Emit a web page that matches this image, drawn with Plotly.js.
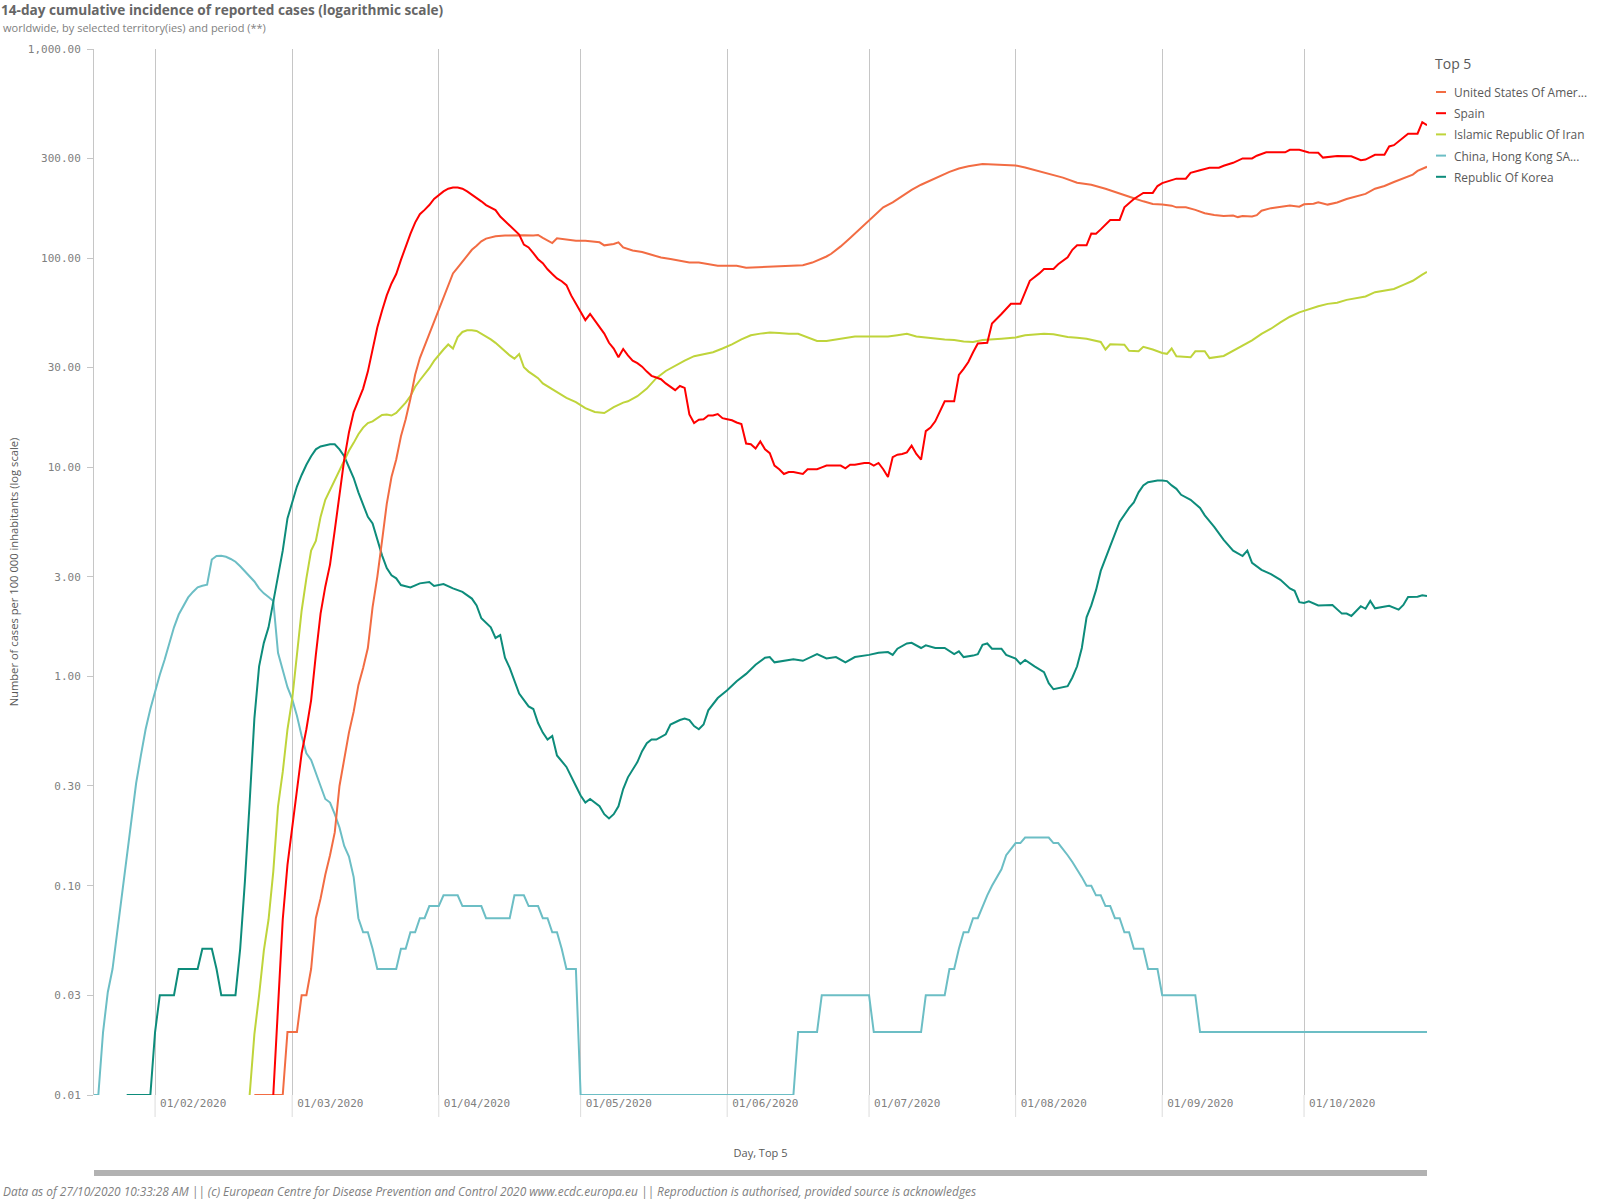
<!DOCTYPE html>
<html>
<head>
<meta charset="utf-8">
<script src="https://cdn.plot.ly/plotly-3.0.1.min.js"></script>
<style>
  html, body { margin: 0; padding: 0; background: #ffffff; }
  #chart { width: 1600px; height: 1200px; }
</style>
</head>
<body>
<div id="chart"></div>
<script>
// ---- Series names and legend labels ----
const seriesNames = ['United States Of America', 'Spain', 'Islamic Republic Of Iran', 'China, Hong Kong SAR', 'Republic Of Korea'];
const legendLabels = ['United States Of Amer...', 'Spain', 'Islamic Republic Of Iran', 'China, Hong Kong SA...', 'Republic Of Korea'];
const legendTitle = 'Top 5';

// ---- Axis ticks ----
const monthTicks = ['2020-02-01', '2020-03-01', '2020-04-01', '2020-05-01', '2020-06-01', '2020-07-01', '2020-08-01', '2020-09-01', '2020-10-01'];
const monthLabels = ['01/02/2020', '01/03/2020', '01/04/2020', '01/05/2020', '01/06/2020', '01/07/2020', '01/08/2020', '01/09/2020', '01/10/2020'];
const yTickValues = [1000, 300, 100, 30, 10, 3, 1, 0.3, 0.1, 0.03, 0.01];
const yTickLabels = ['1,000.00', '300.00', '100.00', '30.00', '10.00', '3.00', '1.00', '0.30', '0.10', '0.03', '0.01'];

// ---- United States Of America (days are MM-DD in 2020) ----
const usaDays = ['02-22','02-28','02-29','03-02','03-03','03-04','03-05','03-06','03-07','03-08','03-09','03-10','03-11','03-12','03-13','03-14','03-15','03-16','03-17','03-18','03-19','03-20','03-21','03-22','03-23','03-24','03-25','03-26','03-27','03-28','03-29','03-30','03-31','04-01','04-02','04-03','04-04','04-05','04-06','04-07','04-08','04-09','04-10','04-11','04-12','04-13','04-15','04-17','04-19','04-21','04-22','04-23','04-24','04-25','04-26','04-28','04-30','05-02','05-04','05-05','05-06','05-08','05-09','05-10','05-12','05-14','05-16','05-18','05-20','05-22','05-24','05-26','05-28','05-30','06-01','06-03','06-05','06-07','06-09','06-11','06-13','06-15','06-17','06-19','06-20','06-22','06-23','06-25','06-27','06-29','07-01','07-03','07-04','07-06','07-08','07-10','07-12','07-14','07-16','07-18','07-20','07-22','07-25','07-29','08-01','08-03','08-06','08-08','08-11','08-14','08-17','08-20','08-23','08-26','08-28','08-30','09-01','09-03','09-04','09-06','09-08','09-10','09-12','09-14','09-16','09-17','09-18','09-20','09-21','09-22','09-24','09-26','09-28','09-30','10-01','10-03','10-04','10-06','10-08','10-10','10-12','10-14','10-16','10-18','10-20','10-22','10-24','10-25','10-27'];
const usaCases = [0.01,0.01,0.02,0.02,0.03,0.03,0.04,0.07,0.087,0.113,0.14,0.18,0.30,0.40,0.54,0.68,0.91,1.1,1.37,2.15,3.0,4.45,6.7,9.0,10.9,14.1,17.0,21.3,27.7,33.3,38.0,44.1,50.2,57.2,65.2,74.3,84.6,90.1,96.3,102.6,109.7,114.8,120.4,124.1,125.9,127.4,128.3,129,128.8,128.5,129.2,125,121.8,118.2,124.5,122.7,121.3,121.3,120,119.1,115.2,116.9,119.1,112.6,108.9,107,103.8,100.7,99.0,97.4,95.3,95.3,93.5,92.1,92.1,92.1,90.1,90.4,90.8,91.1,91.8,92.1,92.5,95.3,97.4,101.9,105,113.9,125,137.3,150.7,166.7,175,185,199,212,224.5,235.5,247,258.6,268.5,275,281.8,280.7,277.7,271.5,260.6,254.1,242.8,229.6,224.5,214.8,203,193.3,187,181.5,180.4,178.3,175,175,170.2,164,161,159.2,159.8,157.2,158.9,158.3,160.5,168.6,173.5,176.3,178.6,176.3,180.9,182.1,185.1,180.4,184.5,191.9,197.2,203,214.8,221.3,231.3,240,251,261.3,273.5];

// ---- Spain ----
const spainDays = ['02-26','02-27','02-28','02-29','03-01','03-02','03-03','03-04','03-05','03-06','03-07','03-08','03-09','03-10','03-11','03-12','03-13','03-14','03-15','03-16','03-17','03-18','03-19','03-20','03-21','03-22','03-23','03-24','03-25','03-26','03-27','03-28','03-29','03-30','03-31','04-01','04-02','04-03','04-04','04-05','04-06','04-07','04-08','04-09','04-10','04-11','04-12','04-13','04-14','04-15','04-16','04-17','04-18','04-19','04-20','04-21','04-22','04-23','04-24','04-25','04-26','04-27','04-28','04-29','04-30','05-01','05-02','05-03','05-04','05-05','05-06','05-07','05-08','05-09','05-10','05-11','05-12','05-13','05-14','05-15','05-16','05-17','05-18','05-19','05-20','05-21','05-22','05-23','05-24','05-25','05-26','05-27','05-28','05-29','05-30','05-31','06-01','06-02','06-03','06-04','06-05','06-06','06-07','06-08','06-09','06-10','06-11','06-12','06-13','06-14','06-15','06-16','06-17','06-18','06-19','06-20','06-21','06-22','06-23','06-24','06-25','06-26','06-27','06-28','06-29','06-30','07-01','07-02','07-03','07-04','07-05','07-06','07-07','07-08','07-09','07-10','07-11','07-12','07-13','07-14','07-15','07-16','07-17','07-19','07-20','07-21','07-22','07-23','07-24','07-26','07-27','07-29','07-31','08-02','08-04','08-06','08-07','08-09','08-10','08-12','08-13','08-14','08-16','08-17','08-18','08-19','08-21','08-23','08-24','08-26','08-28','08-30','08-31','09-01','09-03','09-04','09-06','09-07','09-09','09-11','09-13','09-14','09-16','09-18','09-20','09-21','09-23','09-27','09-28','09-30','10-02','10-04','10-05','10-07','10-08','10-11','10-12','10-13','10-14','10-16','10-18','10-19','10-20','10-21','10-23','10-25','10-26','10-27'];
const spainCases = [0.01,0.027,0.069,0.126,0.19,0.30,0.43,0.56,0.77,1.27,2.0,2.69,3.43,5.0,7.2,10.9,14.7,18.4,20.9,23.8,28.7,37.2,46.6,56.1,66.4,75.7,84,98.2,113.9,130.8,148,162.3,170.2,179.5,192,200.8,208.5,214.8,217.6,217.6,214.8,208.5,201.5,195.4,187,179.5,175,169.8,158.2,150.7,142.6,135.8,129.8,116.1,112.6,105.7,98.9,94.6,88.5,84,80,77.6,74.3,66.4,60.5,55.1,50.6,54.1,50.2,46.6,43.6,39.4,37,33.6,36.8,34.3,32.4,31.5,30.3,28.7,27.4,26.9,26.4,25.2,24.3,23.4,24.5,24,17.9,16.3,16.9,17.0,17.7,17.7,18.0,17.2,17.0,16.8,16.4,16.1,13.0,12.9,12.3,13.3,12.2,11.7,10.2,9.8,9.3,9.5,9.5,9.4,9.3,9.8,9.8,9.8,10.0,10.2,10.2,10.2,10.2,9.9,10.3,10.3,10.4,10.5,10.5,10.2,10.5,9.8,9.0,11.2,11.5,11.6,11.8,12.7,11.6,10.9,14.9,15.5,16.6,18.5,20.7,20.7,27.7,29.6,31.9,35.5,39.1,39.4,48.7,54.1,60.5,60.5,78,84.6,88.8,88.8,93.5,101.1,109.7,115.2,115.2,131.2,131,137.3,152.4,152.4,175,192,205.2,205.2,221.3,228.6,235.5,240,240,255.8,263.5,270.6,270.6,276.6,285.8,300,300,309,320.8,320.8,329.5,329.5,320,319,302.6,304.8,308,307,300,294.3,296,311.9,311.9,342,346.9,361.4,393.9,393.9,447,432];

// ---- Islamic Republic Of Iran ----
const iranDays = ['02-21','02-22','02-23','02-24','02-25','02-26','02-27','02-28','02-29','03-01','03-02','03-03','03-04','03-05','03-06','03-07','03-08','03-09','03-10','03-11','03-12','03-13','03-14','03-15','03-16','03-17','03-18','03-19','03-20','03-21','03-22','03-23','03-24','03-25','03-26','03-27','03-28','03-29','03-30','03-31','04-01','04-02','04-03','04-04','04-05','04-06','04-07','04-08','04-09','04-10','04-11','04-12','04-13','04-14','04-15','04-16','04-17','04-18','04-19','04-20','04-21','04-22','04-23','04-26','04-28','04-30','05-02','05-04','05-06','05-08','05-10','05-11','05-13','05-15','05-16','05-17','05-19','05-21','05-23','05-25','05-27','05-29','05-31','06-02','06-04','06-06','06-08','06-10','06-12','06-14','06-16','06-18','06-20','06-22','06-24','06-26','06-28','07-01','07-05','07-07','07-09','07-11','07-13','07-15','07-17','07-19','07-21','07-23','07-25','07-29','08-01','08-03','08-07','08-09','08-12','08-14','08-16','08-19','08-20','08-21','08-23','08-24','08-25','08-27','08-28','08-30','09-01','09-02','09-03','09-04','09-07','09-08','09-10','09-11','09-14','09-16','09-18','09-20','09-22','09-24','09-26','09-28','09-30','10-02','10-04','10-06','10-08','10-10','10-12','10-14','10-16','10-18','10-20','10-22','10-24','10-26','10-27'];
const iranCases = [0.01,0.0195,0.03,0.049,0.069,0.117,0.24,0.35,0.56,0.78,1.27,2.07,2.95,4.0,4.45,5.8,7.0,7.8,8.6,9.6,10.7,12.0,13.1,14.4,15.5,16.3,16.6,17.2,17.8,17.9,17.7,18.2,19.2,20.4,21.9,24.3,26.1,27.9,29.8,32.3,34.6,36.6,38.7,37.0,42.0,44.4,45.2,45.3,44.9,43.6,42.5,40.9,39.4,37.5,35.9,34.3,33.1,34.8,30.1,28.7,27.7,26.7,25.2,22.8,21.5,20.5,19.2,18.4,18.2,19.4,20.4,20.7,21.9,23.8,25.2,26.7,28.9,30.7,32.4,34.0,34.6,35.5,37.0,38.7,40.9,42.8,43.6,44.1,43.9,43.5,43.5,41.7,40.2,40.2,40.9,41.7,42.2,42.2,42.2,42.8,43.5,42.2,41.7,41.4,40.9,40.6,40.0,39.8,40.6,41.2,41.8,42.8,43.5,43.3,42.0,41.7,41.2,39.8,36.6,38.8,38.7,38.6,36.1,35.9,37.7,36.6,35.2,34.9,37.0,34.0,33.6,35.9,35.9,33.3,34.1,36.2,38.4,40.5,43.5,46.0,49.3,52.5,55.1,57.2,58.9,60.5,61.3,63.2,64.6,65.6,68.8,70.1,71.3,74.5,78.0,83.4,86.0];

// ---- China, Hong Kong SAR ----
const hongKongDays = ['01-19','01-20','01-21','01-22','01-23','01-24','01-25','01-26','01-27','01-28','01-29','01-30','01-31','02-01','02-02','02-03','02-04','02-05','02-06','02-07','02-08','02-09','02-10','02-11','02-12','02-13','02-14','02-15','02-16','02-17','02-18','02-19','02-20','02-21','02-22','02-23','02-24','02-25','02-26','02-27','02-28','02-29','03-01','03-02','03-03','03-04','03-05','03-06','03-07','03-08','03-09','03-10','03-11','03-12','03-13','03-14','03-15','03-16','03-17','03-18','03-19','03-23','03-24','03-25','03-26','03-27','03-28','03-29','03-30','04-01','04-02','04-05','04-06','04-10','04-11','04-16','04-17','04-19','04-20','04-22','04-23','04-24','04-25','04-26','04-27','04-28','04-30','05-01','06-15','06-16','06-20','06-21','07-01','07-02','07-12','07-13','07-17','07-18','07-19','07-20','07-21','07-22','07-23','07-24','07-25','07-26','07-27','07-28','07-29','07-30','07-31','08-01','08-02','08-03','08-08','08-09','08-10','08-11','08-12','08-13','08-14','08-15','08-16','08-17','08-18','08-19','08-20','08-21','08-22','08-23','08-24','08-25','08-26','08-28','08-29','08-31','09-01','09-08','09-09','10-27'];
const hongKongCases = [0.01,0.01,0.02,0.031,0.04,0.06,0.094,0.14,0.205,0.31,0.42,0.56,0.70,0.85,1.02,1.2,1.45,1.72,1.98,2.19,2.39,2.54,2.67,2.72,2.75,3.63,3.77,3.78,3.74,3.65,3.54,3.37,3.18,3.03,2.85,2.64,2.5,2.4,2.3,1.3,1.06,0.89,0.78,0.65,0.52,0.43,0.40,0.35,0.30,0.26,0.25,0.22,0.19,0.155,0.138,0.11,0.07,0.06,0.06,0.05,0.04,0.04,0.05,0.05,0.06,0.06,0.07,0.07,0.08,0.08,0.09,0.09,0.08,0.08,0.07,0.07,0.09,0.09,0.08,0.08,0.07,0.07,0.06,0.06,0.05,0.04,0.04,0.01,0.01,0.02,0.02,0.03,0.03,0.02,0.02,0.03,0.03,0.04,0.04,0.05,0.06,0.06,0.07,0.07,0.08,0.09,0.10,0.11,0.12,0.14,0.15,0.16,0.16,0.17,0.17,0.16,0.16,0.15,0.14,0.13,0.12,0.11,0.10,0.10,0.09,0.09,0.08,0.08,0.07,0.07,0.06,0.06,0.05,0.05,0.04,0.04,0.03,0.03,0.02,0.02];

// ---- Republic Of Korea ----
const koreaDays = ['01-26','01-31','02-01','02-02','02-05','02-06','02-10','02-11','02-13','02-14','02-15','02-18','02-19','02-20','02-21','02-22','02-23','02-24','02-25','02-26','02-27','02-28','02-29','03-01','03-02','03-03','03-04','03-05','03-06','03-07','03-08','03-09','03-10','03-11','03-12','03-13','03-14','03-15','03-16','03-17','03-18','03-19','03-20','03-21','03-22','03-23','03-24','03-26','03-28','03-30','03-31','04-02','04-04','04-06','04-08','04-09','04-10','04-12','04-13','04-14','04-15','04-16','04-18','04-20','04-21','04-22','04-23','04-24','04-25','04-26','04-28','04-30','05-01','05-02','05-03','05-05','05-06','05-07','05-08','05-09','05-10','05-11','05-13','05-14','05-15','05-16','05-17','05-19','05-20','05-22','05-23','05-24','05-25','05-26','05-27','05-28','05-29','05-30','06-01','06-03','06-05','06-07','06-09','06-10','06-11','06-13','06-15','06-17','06-19','06-20','06-22','06-24','06-26','06-28','07-01','07-03','07-05','07-06','07-07','07-09','07-10','07-12','07-13','07-15','07-17','07-19','07-20','07-21','07-23','07-24','07-25','07-26','07-27','07-29','07-30','08-01','08-02','08-03','08-05','08-07','08-08','08-09','08-12','08-13','08-14','08-15','08-16','08-17','08-18','08-19','08-21','08-23','08-25','08-26','08-27','08-28','08-29','08-31','09-01','09-02','09-03','09-04','09-05','09-06','09-07','09-09','09-10','09-12','09-14','09-16','09-18','09-19','09-20','09-22','09-24','09-26','09-28','09-29','09-30','10-01','10-02','10-04','10-06','10-07','10-09','10-10','10-11','10-13','10-14','10-15','10-16','10-18','10-19','10-21','10-22','10-23','10-25','10-26','10-27'];
const koreaCases = [0.01,0.01,0.02,0.03,0.03,0.04,0.04,0.05,0.05,0.04,0.03,0.03,0.05,0.105,0.25,0.63,1.12,1.45,1.72,2.27,3.0,4.0,5.7,6.8,8.1,9.2,10.3,11.3,12.2,12.6,12.8,12.9,12.9,12.2,11.3,10.0,8.9,7.6,6.6,5.8,5.4,4.5,3.8,3.3,3.05,2.95,2.74,2.67,2.79,2.83,2.71,2.77,2.64,2.54,2.36,2.19,1.9,1.72,1.53,1.58,1.23,1.1,0.83,0.72,0.70,0.60,0.54,0.50,0.52,0.42,0.37,0.30,0.27,0.25,0.26,0.24,0.22,0.21,0.22,0.24,0.29,0.33,0.39,0.44,0.48,0.50,0.50,0.53,0.59,0.62,0.63,0.62,0.58,0.56,0.59,0.69,0.74,0.79,0.86,0.95,1.03,1.14,1.23,1.24,1.17,1.19,1.21,1.19,1.25,1.28,1.22,1.24,1.17,1.24,1.27,1.30,1.31,1.27,1.36,1.44,1.45,1.37,1.41,1.37,1.37,1.28,1.32,1.24,1.26,1.28,1.42,1.44,1.36,1.36,1.27,1.22,1.15,1.2,1.12,1.05,0.93,0.87,0.90,0.99,1.12,1.37,1.92,2.19,2.59,3.2,4.2,5.5,6.4,6.8,7.6,8.2,8.5,8.65,8.65,8.6,8.2,7.9,7.4,7.2,7.0,6.4,5.9,5.2,4.5,4.0,3.77,4.0,3.5,3.24,3.09,2.9,2.64,2.57,2.27,2.25,2.29,2.19,2.2,2.2,2.0,2.0,1.95,2.17,2.11,2.3,2.12,2.17,2.18,2.09,2.2,2.4,2.41,2.45,2.43];

// ---- Styling ----
const seriesColors = ['#f26c43', '#ff0000', '#bfd43b', '#6cbec5', '#0d8c7b'];
const textGrey = '#595959';
const tickGrey = '#808080';
const lineGrey = '#c6c6c6';
const uiFont = '"Open Sans", "Noto Sans", sans-serif';
const monoFont = '"DejaVu Sans Mono", monospace';

// Plot-area geometry in pixels (used to place the hand-drawn legend and footer items).
const W = 1600, H = 1200;
const M = { l: 94, r: 173, t: 49, b: 105 };
const plotW = W - M.l - M.r;
const plotH = H - M.t - M.b;
const px2x = (px) => (px - M.l) / plotW;
const px2y = (py) => (H - M.b - py) / plotH;

const toDates = (days) => days.map(d => '2020-' + d);
const dayLists = [usaDays, spainDays, iranDays, hongKongDays, koreaDays];
const caseLists = [usaCases, spainCases, iranCases, hongKongCases, koreaCases];

// Draw order: Hong Kong and Korea underneath, Spain on top.
const drawOrder = [3, 4, 2, 0, 1];
const traces = drawOrder.map(i => ({
  type: 'scatter',
  mode: 'lines',
  name: seriesNames[i],
  x: toDates(dayLists[i]),
  y: caseLists[i],
  line: { color: seriesColors[i], width: 2 },
  hovertemplate: '%{x|%d/%m/%Y}: %{y:.2f}<extra>' + seriesNames[i] + '</extra>'
}));

const shapes = [];
// month grid lines continue a little below the axis, through the label band
monthTicks.forEach(d => {
  shapes.push({ type: 'line', xref: 'x', yref: 'paper', x0: d, x1: d, y0: -22 / plotH, y1: 0,
                line: { color: '#dcdcdc', width: 1 } });
});
// horizontal scroll bar under the axis
shapes.push({ type: 'rect', xref: 'paper', yref: 'paper', x0: 0, x1: 1,
              y0: px2y(1176), y1: px2y(1170), fillcolor: '#b2b2b2', line: { width: 0 } });

const annotations = [];
// subtitle
annotations.push({ xref: 'paper', yref: 'paper', x: px2x(1), y: px2y(27.5), xanchor: 'left', yanchor: 'middle',
  showarrow: false, text: 'worldwide, by selected territory(ies) and period (**)',
  font: { family: uiFont, size: 11, color: tickGrey } });
// footer
annotations.push({ xref: 'paper', yref: 'paper', x: px2x(1), y: px2y(1191), xanchor: 'left', yanchor: 'middle',
  showarrow: false,
  text: '<i>Data as of 27/10/2020 10:33:28 AM || (c) European Centre for Disease Prevention and Control 2020 www.ecdc.europa.eu || Reproduction is authorised, provided source is acknowledges</i>',
  font: { family: uiFont, size: 11.9, color: tickGrey } });
// legend title
annotations.push({ xref: 'paper', yref: 'paper', x: px2x(1433), y: px2y(64), xanchor: 'left', yanchor: 'middle',
  showarrow: false, text: legendTitle, font: { family: uiFont, size: 14, color: textGrey } });
// legend entries
legendLabels.forEach((label, i) => {
  const yy = 92 + 21.2 * i;
  shapes.push({ type: 'line', xref: 'paper', yref: 'paper', x0: px2x(1436), x1: px2x(1446),
                y0: px2y(yy), y1: px2y(yy), line: { color: seriesColors[i], width: 2 } });
  annotations.push({ xref: 'paper', yref: 'paper', x: px2x(1452), y: px2y(yy), xanchor: 'left', yanchor: 'middle',
    showarrow: false, text: label, font: { family: uiFont, size: 11.9, color: textGrey } });
});

const layout = {
  width: W, height: H,
  margin: M,
  paper_bgcolor: '#ffffff',
  plot_bgcolor: '#ffffff',
  showlegend: false,
  font: { family: uiFont, color: textGrey },
  title: {
    text: '<b>14-day cumulative incidence of reported cases (logarithmic scale)</b>',
    xref: 'container', yref: 'container', x: 1 / W, y: 1 - 10 / H, xanchor: 'left', yanchor: 'middle',
    font: { family: uiFont, size: 13.6, color: '#666666' }
  },
  xaxis: {
    type: 'date',
    range: ['2020-01-19 02:00', '2020-10-27 00:00'],
    tickmode: 'array', tickvals: monthTicks, ticktext: monthLabels,
    ticklabelposition: 'outside right',
    ticklabelshift: 5,
    ticks: '',
    showgrid: true, gridcolor: lineGrey, gridwidth: 1,
    showline: false, zeroline: false,
    tickfont: { family: monoFont, size: 11, color: tickGrey },
    title: { text: 'Day, Top 5', standoff: 40, font: { family: uiFont, size: 11, color: textGrey } },
    automargin: false
  },
  yaxis: {
    type: 'log',
    range: [-2, 3],
    tickmode: 'array', tickvals: yTickValues, ticktext: yTickLabels,
    ticks: 'outside', ticklen: 6, tickcolor: lineGrey, tickwidth: 1,
    ticklabelstandoff: 4,
    showline: true, linecolor: lineGrey, linewidth: 1,
    showgrid: false, zeroline: false,
    tickfont: { family: monoFont, size: 11, color: tickGrey },
    title: { text: 'Number of cases per 100 000 inhabitants (log scale)', standoff: 6,
             font: { family: uiFont, size: 11.2, color: textGrey } },
    automargin: false
  },
  shapes: shapes,
  annotations: annotations
};

Plotly.newPlot('chart', traces, layout, { displayModeBar: false });
</script>
</body>
</html>
